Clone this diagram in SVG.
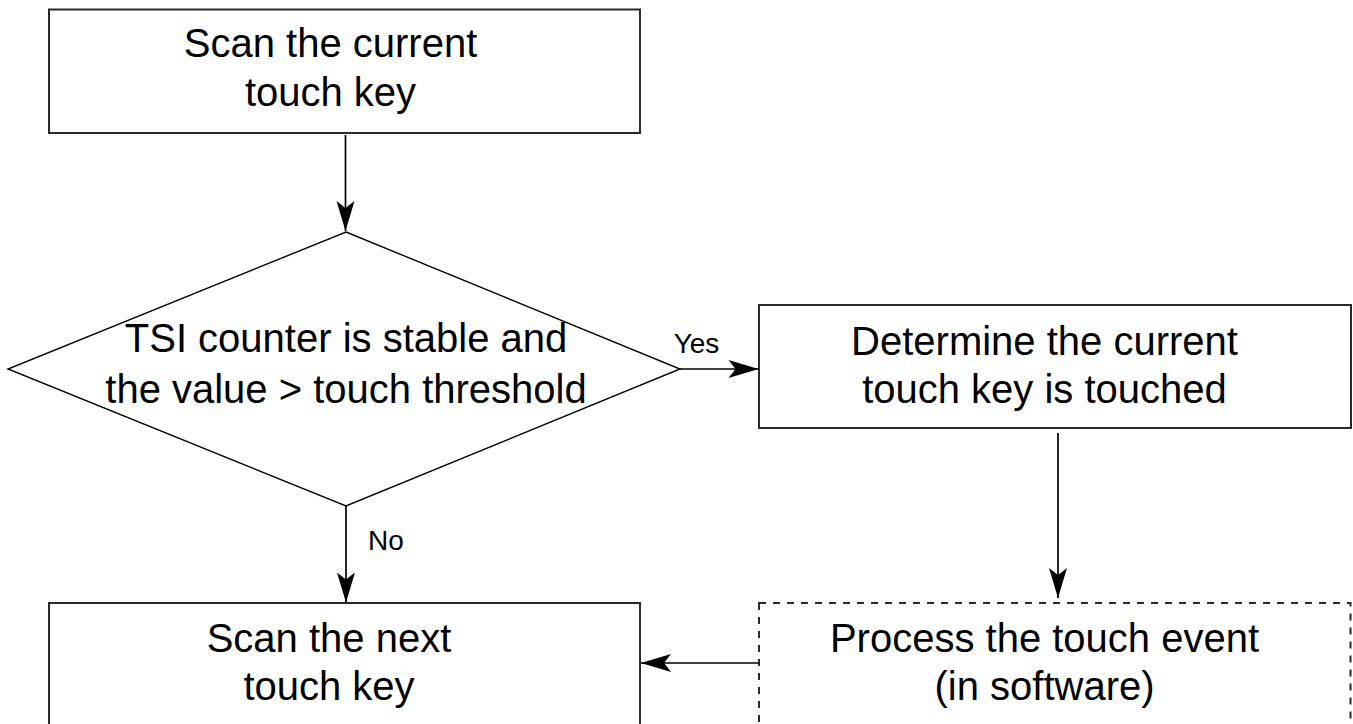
<svg xmlns="http://www.w3.org/2000/svg" width="1353" height="724" viewBox="0 0 1353 724">
<style>
.box{fill:#fff;stroke:#2a2a2a;stroke-width:2}
.dash{fill:#fff;stroke:#2a2a2a;stroke-width:2;stroke-dasharray:7 7}
.dia{fill:#fff;stroke:#000;stroke-width:1.4}
.t{font-family:"Liberation Sans",Arial,Helvetica,sans-serif;font-size:40px;fill:#000;text-anchor:middle}
.lbl{font-family:"Liberation Sans",Arial,Helvetica,sans-serif;font-size:28px;fill:#000;text-anchor:middle}
.c{stroke:#000;stroke-width:1.7;fill:none;marker-end:url(#ah)}
</style>
<defs>
<marker id="ah" markerUnits="userSpaceOnUse" markerWidth="34" markerHeight="22" viewBox="-31 -11 34 22" refX="0" refY="0" orient="auto">
<path d="M0,0 L-30,-9 L-23,0 L-30,9 Z" fill="#000"/>
</marker>
</defs>
<rect width="1353" height="724" fill="#fff"/>
<g id="n1">
<rect class="box" x="49" y="9.5" width="591" height="123.5"/>
<text class="t" x="330.5" y="57">Scan the current</text>
<text class="t" x="330.5" y="106">touch key</text>
</g>
<g id="n2">
<polygon class="dia" points="346,232 680,369 346,506 8,369"/>
<text class="t" x="346" y="352">TSI counter is stable and</text>
<text class="t" x="346" y="403">the value &gt; touch threshold</text>
</g>
<g id="n3">
<rect class="box" x="759" y="305" width="592" height="123"/>
<text class="t" x="1044.5" y="355">Determine the current</text>
<text class="t" x="1044.5" y="403">touch key is touched</text>
</g>
<g id="n4">
<rect class="box" x="49" y="603" width="591" height="140"/>
<text class="t" x="329" y="652">Scan the next</text>
<text class="t" x="329" y="700">touch key</text>
</g>
<g id="n5">
<rect class="dash" x="759" y="603" width="591.5" height="140"/>
<text class="t" x="1044.5" y="652">Process the touch event</text>
<text class="t" x="1044.5" y="700">(in software)</text>
</g>
<g id="connectors">
<line class="c" x1="345.5" y1="135" x2="345.5" y2="231"/>
<line class="c" x1="680" y1="369" x2="758.5" y2="369"/>
<text class="lbl" x="696.5" y="353">Yes</text>
<line class="c" x1="346" y1="506" x2="346" y2="602.5"/>
<text class="lbl" x="386" y="550">No</text>
<line class="c" x1="1058" y1="433" x2="1058" y2="598"/>
<line class="c" x1="759" y1="663" x2="641" y2="663"/>
</g>
</svg>
